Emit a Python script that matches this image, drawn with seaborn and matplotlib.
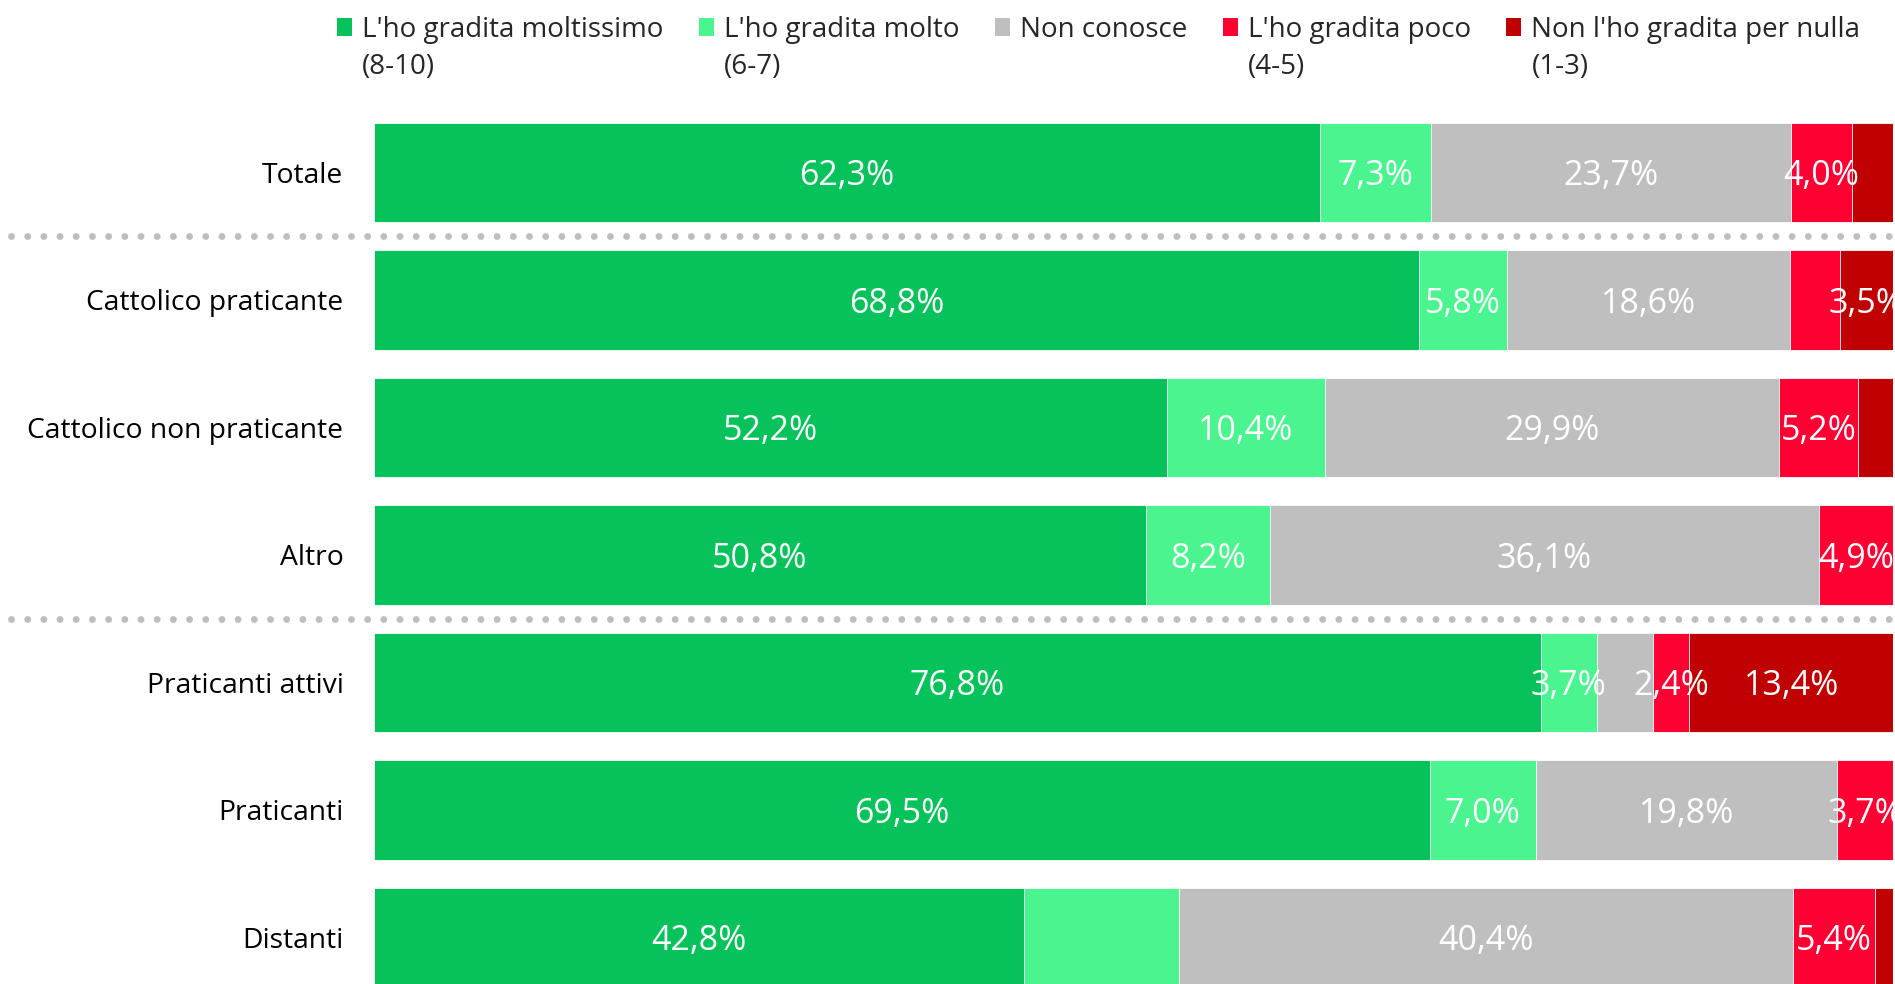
import numpy as np
import pandas as pd
import matplotlib
matplotlib.use("Agg")
import matplotlib.pyplot as plt
import matplotlib.transforms as mtransforms
from matplotlib.patches import Patch
import seaborn as sns

# ---------------- data ----------------
categories = ["Totale", "Cattolico praticante", "Cattolico non praticante", "Altro",
              "Praticanti attivi", "Praticanti", "Distanti"]

series_names = ["L'ho gradita moltissimo", "L'ho gradita molto", "Non conosce",
                "L'ho gradita poco", "Non l'ho gradita per nulla"]
series_sub = ["(8-10)", "(6-7)", "", "(4-5)", "(1-3)"]

moltissimo = [62.3, 68.8, 52.2, 50.8, 76.8, 69.5, 42.8]
molto      = [7.3, 5.8, 10.4, 8.2, 3.7, 7.0, 10.2]
non_conosce = [23.7, 18.6, 29.9, 36.1, 3.7, 19.8, 40.4]
poco       = [4.0, 3.3, 5.2, 4.9, 2.4, 3.7, 5.4]
per_nulla  = [2.7, 3.5, 2.3, 0.0, 13.4, 0.0, 1.2]

# which values carry a data label in the reference
lab_moltissimo = [1, 1, 1, 1, 1, 1, 1]
lab_molto      = [1, 1, 1, 1, 1, 1, 0]
lab_non_conosce = [1, 1, 1, 1, 0, 1, 1]
lab_poco       = [1, 0, 1, 1, 1, 1, 1]
lab_per_nulla  = [0, 1, 0, 0, 1, 0, 0]

colors = ["#05C35A", "#4AF590", "#BFBFBF", "#FF0033", "#C00000"]

values = [moltissimo, molto, non_conosce, poco, per_nulla]
labels_on = [lab_moltissimo, lab_molto, lab_non_conosce, lab_poco, lab_per_nulla]

# ---------------- style ----------------
sns.set_style("white")
plt.rcParams["font.family"] = ["Open Sans", "DejaVu Sans"]

W, H = 1895, 984
fig = plt.figure(figsize=(W / 100, H / 100), dpi=100)
ax = fig.add_axes([374 / W, 0.0, 1519 / W, 1.0])

cum = np.cumsum(np.array(values), axis=0)

# draw stacked bars as overlapping cumulative layers (largest first)
for i in range(len(values) - 1, -1, -1):
    df = pd.DataFrame({"cat": categories, "val": cum[i]})
    sns.barplot(data=df, x="val", y="cat", order=categories, orient="h",
                color=colors[i], saturation=1, width=0.78,
                edgecolor="white", linewidth=0.6, ax=ax)

# data labels
for i in range(len(values)):
    for j, cat in enumerate(categories):
        if labels_on[i][j]:
            v = values[i][j]
            xc = cum[i][j] - v / 2
            ax.text(xc, j, f"{v:.1f}%".replace(".", ","), ha="center",
                    va="center_baseline", color="white", fontsize=24.5, clip_on=False)

ax.set_xlim(0, 100)
ax.set_ylim(6.365, -1.353)
ax.set_xlabel("")
ax.set_ylabel("")
ax.set_xticks([])
ax.tick_params(axis="y", length=0, pad=22, labelsize=20.3, labelcolor="black")
for s in ax.spines.values():
    s.set_visible(False)

# dotted separators
trans = mtransforms.blended_transform_factory(fig.transFigure, ax.transData)
for ysep in [0.5, 3.5]:
    ax.plot([11 / W, 1.0], [ysep, ysep], transform=trans, clip_on=False,
            color="#BEBEBE", linewidth=5.0, linestyle=(0, (0.001, 2.33)),
            dash_capstyle="round")

# legend
handles = [Patch(facecolor=c, edgecolor="none") for c in colors]
leg = fig.legend(handles, series_names, loc="center left",
                 bbox_to_anchor=(337 / W, 1 - 30 / H), bbox_transform=fig.transFigure,
                 ncol=5, frameon=False, fontsize=20, borderpad=0,
                 handlelength=0.53, handleheight=0.62, handletextpad=0.37,
                 columnspacing=1.28, borderaxespad=0)

# second line of the legend labels, placed under each first line
fig.canvas.draw()
inv = fig.transFigure.inverted()
for txt, sub in zip(leg.get_texts(), series_sub):
    if sub:
        bb = txt.get_window_extent()
        x0, yc = inv.transform((bb.x0, (bb.y0 + bb.y1) / 2))
        fig.text(x0, yc - 37 / H, sub, ha="left", va="center", fontsize=20)

fig.savefig("out.png", dpi=100)
